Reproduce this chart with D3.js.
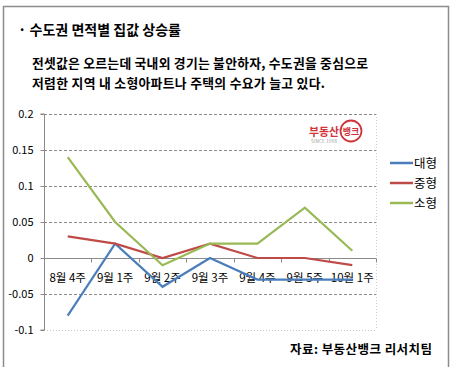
<!DOCTYPE html>
<html>
<head>
<meta charset="utf-8">
<script src="https://cdn.jsdelivr.net/npm/d3@7"></script>
<style>
  body { margin: 0; background: #fff; }
  text { font-family: "Noto Sans CJK KR", "Noto Sans", sans-serif; }
</style>
</head>
<body>
<div id="chart"></div>
<script>
const categories = ['8월 4주', '9월 1주', '9월 2주', '9월 3주', '9월 4주', '9월 5주', '10월 1주'];
const seriesNames = ['대형', '중형', '소형'];
const large = [-0.08, 0.02, -0.04, 0, -0.03, -0.03, -0.03];
const medium = [0.03, 0.02, 0, 0.02, 0, 0, -0.01];
const small = [0.14, 0.05, -0.01, 0.02, 0.02, 0.07, 0.01];
const yTicks = [0.2, 0.15, 0.1, 0.05, 0, -0.05, -0.1];
const colors = ['#4a7ebb', '#be4b48', '#98b954'];

const W = 454, H = 367;
const plot = {l: 44, r: 376, t: 114, b: 330};

const svg = d3.select('#chart').append('svg')
  .attr('width', W).attr('height', H);

// outer frame (no bottom edge in the picture)
svg.append('path')
  .attr('d', `M3.5,${H + 2} V6.5 H448.5 V${H + 2}`)
  .attr('fill', 'none').attr('stroke', '#8c8c8c').attr('stroke-width', 1.5);

svg.append('text')
  .attr('x', 18).attr('y', 35)
  .attr('font-size', 14).attr('font-weight', 'bold')
  .attr('textLength', 163).attr('lengthAdjust', 'spacing')
  .text('· 수도권 면적별 집값 상승률');

const sub = ['전셋값은 오르는데 국내외 경기는 불안하자, 수도권을 중심으로',
             '저렴한 지역 내 소형아파트나 주택의 수요가 늘고 있다.'];
const subLen = [336, 293];
svg.selectAll('.sub').data(sub).enter().append('text')
  .attr('class', 'sub')
  .attr('x', 32).attr('y', (d, i) => 68 + i * 20)
  .attr('font-size', 12.8).attr('font-weight', 'bold')
  .attr('textLength', (d, i) => subLen[i]).attr('lengthAdjust', 'spacing')
  .text(d => d);

const x = d3.scaleBand().domain(categories).range([plot.l, plot.r]);
const y = d3.scaleLinear().domain([-0.1, 0.2]).range([plot.b, plot.t]);

const chart = svg.append('g');

// gridlines
chart.selectAll('.grid').data(yTicks.filter(t => t !== 0)).enter().append('line')
  .attr('x1', plot.l).attr('x2', plot.r)
  .attr('y1', d => Math.round(y(d)) + 0.5).attr('y2', d => Math.round(y(d)) + 0.5)
  .attr('stroke', d => d === -0.1 ? '#c8c8c8' : '#8a8a8a')
  .attr('stroke-dasharray', d => d === -0.1 ? '1,2' : '3,2');

// right plot border
chart.append('line')
  .attr('x1', plot.r + 0.5).attr('x2', plot.r + 0.5)
  .attr('y1', plot.t).attr('y2', plot.b)
  .attr('stroke', '#d0d0d0').attr('stroke-dasharray', '1,2');

// y axis
const yAxis = chart.append('g')
  .attr('transform', `translate(${plot.l + 0.5},0)`)
  .call(d3.axisLeft(y).tickValues(yTicks).tickSize(4).tickPadding(7)
    .tickFormat(d => d === 0 ? '0' : String(d)));
yAxis.select('.domain').attr('stroke', '#8a8a8a').attr('d', `M-4,${plot.t}H0V${plot.b}H-4`);
yAxis.selectAll('.tick line').attr('stroke', '#8a8a8a');
yAxis.selectAll('.tick text').attr('font-size', 11).attr('fill', '#000')
  .attr('font-family', '"Liberation Sans", Arial, sans-serif');

// x axis at zero
const y0 = Math.round(y(0)) + 0.5;
const xAxisG = chart.append('g').attr('transform', `translate(0,${y0})`);
xAxisG.append('line')
  .attr('x1', plot.l).attr('x2', plot.r)
  .attr('stroke', '#8a8a8a');
const bounds = categories.map(c => x(c)).concat([plot.r]);
xAxisG.selectAll('.xt').data(bounds).enter().append('line')
  .attr('x1', d => Math.round(d) + 0.5).attr('x2', d => Math.round(d) + 0.5)
  .attr('y1', 0).attr('y2', 4).attr('stroke', '#8a8a8a');
xAxisG.selectAll('.xl').data(categories).enter().append('text')
  .attr('x', d => x(d) + x.bandwidth() / 2).attr('y', 23)
  .attr('text-anchor', 'middle').attr('font-size', 11.5)
  .text(d => d);

// logo
const logo = chart.append('g').attr('transform', 'translate(309,119)');
logo.append('text').attr('x', 0).attr('y', 17)
  .attr('font-size', 11).attr('font-weight', 'bold').attr('fill', '#d0343a')
  .attr('textLength', 30).attr('lengthAdjust', 'spacingAndGlyphs')
  .text('부동산');
logo.append('circle').attr('cx', 42).attr('cy', 12).attr('r', 10.5)
  .attr('fill', 'none').attr('stroke', '#d0343a').attr('stroke-width', 1.8);
logo.append('text').attr('x', 42).attr('y', 15.5).attr('text-anchor', 'middle')
  .attr('font-size', 9).attr('font-weight', 'bold').attr('fill', '#d0343a')
  .text('뱅크');
logo.append('text').attr('x', 2).attr('y', 23.5)
  .attr('font-size', 4.5).attr('fill', '#999')
  .attr('textLength', 26)
  .text('SINCE 1998');

// lines
const seriesData = [large, medium, small];
const line = d3.line()
  .x((d, i) => x(categories[i]) + x.bandwidth() / 2)
  .y(d => y(d));
chart.selectAll('.series').data(seriesData).enter().append('path')
  .attr('d', d => line(d))
  .attr('fill', 'none')
  .attr('stroke', (d, i) => colors[i])
  .attr('stroke-width', 2.2);

// legend
const legend = svg.append('g').attr('transform', 'translate(390,163)');
seriesNames.forEach((name, i) => {
  const g = legend.append('g').attr('transform', `translate(0,${i * 20})`);
  g.append('line').attr('x1', 0).attr('x2', 23).attr('y1', 0).attr('y2', 0)
    .attr('stroke', colors[i]).attr('stroke-width', 2.5);
  g.append('text').attr('x', 24).attr('y', 5).attr('font-size', 12.5)
    .text(name);
});

svg.append('text')
  .attr('x', 432).attr('y', 354).attr('text-anchor', 'end')
  .attr('font-size', 12.5).attr('font-weight', 'bold')
  .attr('textLength', 142).attr('lengthAdjust', 'spacing')
  .text('자료: 부동산뱅크 리서치팀');
</script>
</body>
</html>
